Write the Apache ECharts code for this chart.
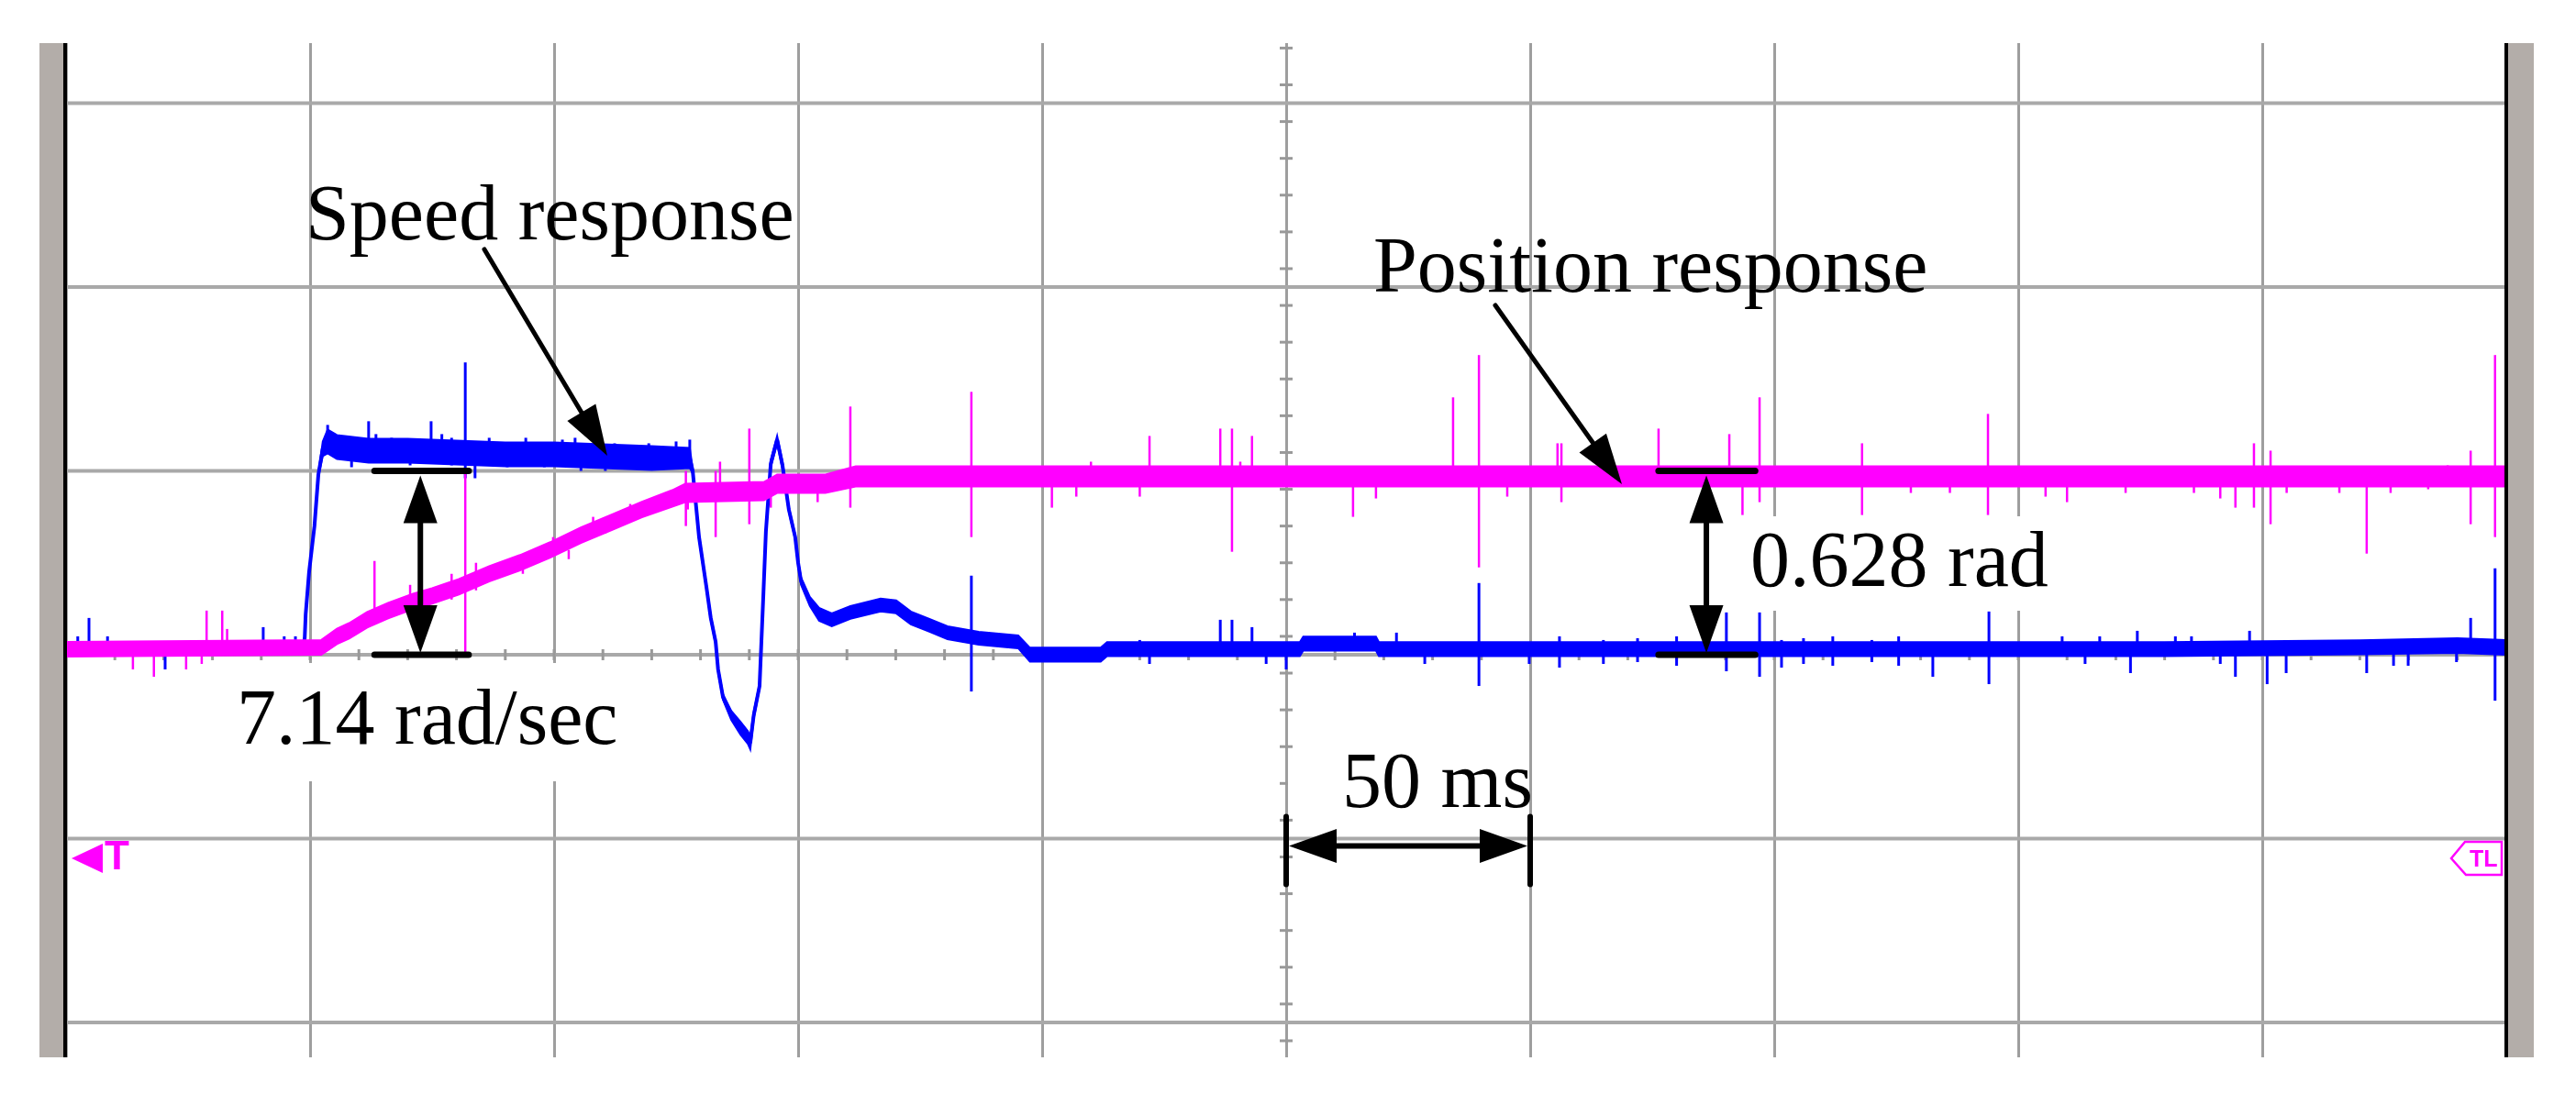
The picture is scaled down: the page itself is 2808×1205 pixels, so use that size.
<!DOCTYPE html>
<html><head><meta charset="utf-8">
<script src="https://cdn.jsdelivr.net/npm/echarts@6/dist/echarts.min.js"></script>
<style>html,body{margin:0;padding:0;background:#fff;}#c{width:2808px;height:1205px;}</style>
</head><body><div id="c"></div>
<script>
// ---- time axis: ms (50 ms / div), vertical axis: divisions (0 = speed zero) ----
const speedTime   = [0, 48.6, 48.9, 49.1, 49.8, 50.9, 51.7, 52.6, 53.6, 55.5, 62, 70, 80, 90, 100, 110, 120, 127.8, 128.4, 129.7, 131.2, 132.1, 133.1, 133.6, 134.6, 136.3, 138.2, 139.7, 140.2, 140.9, 142.1, 142.9, 143.4, 144.4, 145.7, 146.8, 148.1, 149.4, 150.0, 150.6, 152.4, 154.3, 156.9, 160.7, 166.9, 170.1, 173.1, 176.9, 180.6, 187.0, 195.1, 197.5, 212.0, 213.3, 252.8, 253.5, 268.4, 269.0, 300, 350, 400, 430, 470, 490, 500];
const speedValue  = [0.03, 0.04, 0.09, 0.22, 0.45, 0.70, 0.98, 1.12, 1.16, 1.13, 1.11, 1.11, 1.10, 1.09, 1.09, 1.08, 1.07, 1.07, 1.00, 0.64, 0.37, 0.20, 0.07, -0.08, -0.23, -0.33, -0.40, -0.45, -0.48, -0.33, -0.17, 0.34, 0.67, 1.04, 1.17, 1.03, 0.79, 0.64, 0.50, 0.40, 0.29, 0.22, 0.19, 0.23, 0.27, 0.26, 0.20, 0.16, 0.12, 0.09, 0.07, 0.00, 0.00, 0.03, 0.03, 0.06, 0.06, 0.03, 0.03, 0.03, 0.03, 0.03, 0.04, 0.05, 0.04];
const speedSpread = [0.035, 0.035, 0.01, 0.005, 0.005, 0.005, 0.01, 0.04, 0.065, 0.065, 0.065, 0.065, 0.065, 0.065, 0.065, 0.065, 0.065, 0.055, 0.012, 0.012, 0.012, 0.012, 0.012, 0.012, 0.015, 0.025, 0.035, 0.035, 0.035, 0.02, 0.012, 0.012, 0.012, 0.02, 0.02, 0.02, 0.012, 0.012, 0.012, 0.02, 0.025, 0.035, 0.035, 0.035, 0.035, 0.035, 0.035, 0.035, 0.035, 0.035, 0.035, 0.038, 0.038, 0.038, 0.038, 0.038, 0.038, 0.038, 0.038, 0.038, 0.038, 0.038, 0.038, 0.04, 0.04];

const positionTime   = [0, 52.3, 55.5, 58, 61.7, 66, 71.1, 75, 80.5, 86.7, 93, 99.2, 105.5, 111.8, 118, 124.2, 126.9, 143, 145.7, 155.6, 161.8, 200, 250, 300, 350, 400, 450, 500];
const positionValue  = [0.03, 0.04, 0.10, 0.13, 0.19, 0.24, 0.29, 0.32, 0.37, 0.44, 0.50, 0.57, 0.65, 0.72, 0.79, 0.85, 0.88, 0.89, 0.93, 0.93, 0.97, 0.97, 0.97, 0.97, 0.97, 0.97, 0.97, 0.97];
const positionSpread = [0.04, 0.04, 0.042, 0.042, 0.042, 0.042, 0.042, 0.042, 0.042, 0.042, 0.042, 0.042, 0.042, 0.042, 0.042, 0.045, 0.05, 0.05, 0.05, 0.05, 0.055, 0.055, 0.055, 0.055, 0.055, 0.055, 0.055, 0.055];

// spikes and noise blips: [time, low, high]
const speedSpikeTime = [2.4, 4.7, 8.5, 20.3, 40.4, 44.7, 47.0, 53.6, 56.0, 58.5, 62.0, 63.5, 66.7, 70.5, 74.8, 77.0, 79.0, 81.8, 83.8, 86.7, 90.4, 94.2, 98.0, 101.7, 104.3, 105.5, 110.5, 112.4, 117.5, 119.4, 122.7, 125.0, 127.8,
  185.5, 220.0, 222.0, 236.5, 238.9, 243.0, 245.9, 250.0, 264.0, 272.6, 278.4, 289.5, 299.8, 306.0, 315.0, 322.0, 330.0, 340.2, 347.0, 351.5, 356.0, 362.0, 370.0, 375.5, 382.5, 394.0, 409.0, 413.7, 416.7, 423.0, 424.4, 432.2, 435.5, 441.4, 444.5, 447.4, 451.0, 454.9, 471.4, 476.9, 479.9, 489.8, 492.7, 497.7];
const speedSpikeLow  = [0.03, 0.03, 0.03, -0.08, 0.03, 0.03, 0.03, 1.10, 1.10, 1.02, 1.10, 1.10, 1.10, 1.03, 1.10, 1.10, 1.03, 0.96, 0.96, 1.08, 1.02, 1.08, 1.02, 1.08, 1.08, 1.00, 1.00, 1.07, 1.02, 1.07, 1.02, 1.07, 1.07,
  -0.20, 0.03, -0.05, 0.03, 0.03, 0.03, -0.05, -0.08, 0.06, 0.03, -0.05, -0.17, -0.05, -0.07, -0.05, -0.04, -0.06, -0.09, -0.12, -0.07, -0.05, -0.06, -0.04, -0.06, -0.12, -0.16, 0.03, -0.05, 0.03, -0.10, 0.03, 0.03, 0.03, -0.05, -0.12, 0.03, -0.16, -0.10, -0.10, -0.06, -0.06, -0.04, 0.03, -0.25];
const speedSpikeHigh = [0.10, 0.20, 0.10, 0.03, 0.15, 0.10, 0.10, 1.25, 1.18, 1.12, 1.27, 1.20, 1.18, 1.12, 1.27, 1.20, 1.18, 1.59, 1.10, 1.18, 1.10, 1.18, 1.10, 1.17, 1.18, 1.09, 1.08, 1.15, 1.08, 1.15, 1.08, 1.16, 1.17,
  0.43, 0.08, 0.03, 0.19, 0.19, 0.15, 0.03, 0.03, 0.12, 0.12, 0.03, 0.39, 0.03, 0.10, 0.08, 0.09, 0.10, 0.23, 0.23, 0.08, 0.09, 0.10, 0.08, 0.10, 0.03, 0.235, 0.10, 0.03, 0.10, 0.03, 0.13, 0.10, 0.10, 0.03, 0.03, 0.13, 0.03, 0.03, 0.03, 0.03, 0.03, 0.03, 0.20, 0.47];

const positionSpikeTime = [13.7, 18.0, 24.6, 27.8, 28.8, 32.0, 33.0, 63.2, 70.5, 79.0, 81.8, 84.0, 93.6, 99.8, 103.0, 108.0, 110.5, 114.3, 115.6, 127.0, 127.4, 133.1, 134.0, 140.0, 144.4, 154.0, 160.7, 185.5, 202.0, 207.0, 210.0, 220.0, 222.0, 236.5, 238.9, 240.6, 243.0, 263.7, 268.4, 284.2, 289.5, 295.3, 305.6, 306.4, 326.3, 340.8, 343.5, 347.0, 368.0, 378.0, 386.0, 393.8, 405.6, 410.0, 422.0, 436.0, 441.4, 444.5, 448.3, 451.7, 455.0, 465.8, 471.4, 476.3, 484.0, 488.0, 492.7, 497.7];
const positionSpikeLow  = [-0.08, -0.12, -0.08, -0.05, 0.03, 0.03, 0.03, 0.20, 0.29, 0.30, 0.00, 0.35, 0.44, 0.57, 0.52, 0.65, 0.66, 0.72, 0.72, 0.70, 0.79, 0.64, 0.89, 0.71, 0.80, 0.83, 0.80, 0.64, 0.80, 0.86, 0.97, 0.86, 0.97, 0.97, 0.56, 0.97, 0.97, 0.75, 0.85, 0.97, 0.475, 0.86, 0.97, 0.83, 0.97, 0.97, 0.76, 0.83, 0.76, 0.88, 0.88, 0.76, 0.86, 0.83, 0.88, 0.88, 0.85, 0.80, 0.80, 0.71, 0.88, 0.88, 0.55, 0.88, 0.90, 0.97, 0.71, 0.64];
const positionSpikeHigh = [0.03, 0.03, 0.03, 0.03, 0.24, 0.24, 0.14, 0.51, 0.38, 0.44, 0.99, 0.50, 0.50, 0.64, 0.57, 0.75, 0.72, 0.79, 0.82, 1.00, 0.88, 1.00, 1.05, 1.23, 0.93, 0.93, 1.35, 1.43, 0.97, 0.97, 1.05, 0.97, 1.19, 1.23, 1.23, 1.05, 1.19, 0.97, 0.97, 1.40, 1.63, 0.97, 1.15, 1.15, 1.23, 1.20, 0.97, 1.40, 1.15, 0.97, 0.97, 1.31, 0.97, 0.97, 0.97, 0.97, 0.97, 0.97, 1.15, 1.11, 0.97, 0.97, 0.97, 0.97, 0.97, 1.03, 1.11, 1.63];

const gridRowValues = [-2, -1, 0, 1, 2, 3];
const labelSpeed = 'Speed response';
const labelPosition = 'Position response';
const labelSpeedStep = '7.14 rad/sec';
const labelPositionStep = '0.628 rad';
const labelTimeDiv = '50 ms';

const BLUE = '#0000ff', MAG = '#ff00ff';

const chart = echarts.init(document.getElementById('c'), null, {renderer: 'canvas'});

function bandRenderer(times, vals, spreads, color) {
  return function (params, api) {
    const up = [], lo = [];
    for (let i = 0; i < times.length; i++) {
      up.push(api.coord([times[i], vals[i] + spreads[i]]));
      lo.push(api.coord([times[i], vals[i] - spreads[i]]));
    }
    return {type: 'polygon', shape: {points: up.concat(lo.reverse())},
            style: {fill: color, stroke: color, lineWidth: 2}};
  };
}
function spikeRenderer(color, w) {
  return function (params, api) {
    const a = api.coord([api.value(0), api.value(1)]);
    const b = api.coord([api.value(0), api.value(2)]);
    return {type: 'line', shape: {x1: a[0], y1: a[1], x2: b[0], y2: b[1]}, style: {stroke: color, lineWidth: w}};
  };
}

// decoration: minor ticks along the centre axes
const xTickTimes = []; for (let t = 10; t < 500; t += 10) xTickTimes.push(t);
const yTickVals = []; for (let v = -21; v <= 33; v += 2) yTickVals.push(v / 10);

const option = {
  animation: false,
  backgroundColor: '#ffffff',
  grid: {left: 72, right: 76, top: 47, bottom: 52, show: false},
  xAxis: {type: 'value', min: 0, max: 500, interval: 50,
    axisLine: {show: false}, axisTick: {show: false}, axisLabel: {show: false},
    splitLine: {show: true, lineStyle: {color: '#9e9e9e', width: 3}}},
  yAxis: {type: 'value', min: -2.19, max: 3.327,
    axisLine: {show: false}, axisTick: {show: false}, axisLabel: {show: false}, splitLine: {show: false}},
  series: [
    {type: 'custom', name: 'rows', z: 1, silent: true, data: gridRowValues.map(v => [v]),
      encode: {y: 0},
      renderItem: (p, api) => {
        const a = api.coord([0, api.value(0)]), b = api.coord([500, api.value(0)]);
        return {type: 'line', shape: {x1: a[0], y1: a[1], x2: b[0], y2: b[1]}, style: {stroke: '#a9a9a9', lineWidth: 4}};
      }},
    {type: 'custom', name: 'xticks', z: 1, silent: true, data: xTickTimes.map(t => [t]),
      encode: {x: 0},
      renderItem: (p, api) => {
        const a = api.coord([api.value(0), 0]);
        return {type: 'line', shape: {x1: a[0], y1: a[1] - 6, x2: a[0], y2: a[1] + 6}, style: {stroke: '#999999', lineWidth: 3}};
      }},
    {type: 'custom', name: 'yticks', z: 1, silent: true, data: yTickVals.map(v => [v]),
      encode: {y: 0},
      renderItem: (p, api) => {
        const a = api.coord([250, api.value(0)]);
        return {type: 'line', shape: {x1: a[0] - 7, y1: a[1], x2: a[0] + 7, y2: a[1]}, style: {stroke: '#999999', lineWidth: 3}};
      }},
    {type: 'custom', name: 'speedBand', z: 3, silent: true, clip: true, data: [[0, 0]],
      renderItem: bandRenderer(speedTime, speedValue, speedSpread, BLUE)},
    {type: 'line', name: 'Speed response', z: 4, silent: true, showSymbol: false, clip: true,
      data: speedTime.map((t, i) => [t, speedValue[i]]),
      lineStyle: {color: BLUE, width: 4}, itemStyle: {color: BLUE}},
    {type: 'custom', name: 'speedSpikes', z: 4, silent: true, clip: true,
      data: speedSpikeTime.map((t, i) => [t, speedSpikeLow[i], speedSpikeHigh[i]]),
      encode: {x: 0, y: [1, 2]}, renderItem: spikeRenderer(BLUE, 3)},
    {type: 'custom', name: 'positionBand', z: 5, silent: true, clip: true, data: [[0, 0]],
      renderItem: bandRenderer(positionTime, positionValue, positionSpread, MAG)},
    {type: 'line', name: 'Position response', z: 6, silent: true, showSymbol: false, clip: true,
      data: positionTime.map((t, i) => [t, positionValue[i]]),
      lineStyle: {color: MAG, width: 3}, itemStyle: {color: MAG}},
    {type: 'custom', name: 'positionSpikes', z: 6, silent: true, clip: true,
      data: positionSpikeTime.map((t, i) => [t, positionSpikeLow[i], positionSpikeHigh[i]]),
      encode: {x: 0, y: [1, 2]}, renderItem: spikeRenderer(MAG, 2.5)}
  ]
};
chart.setOption(option);

const px = (t, v) => chart.convertToPixel({gridIndex: 0}, [t, v]);
const Z = 100;

function head(tip, from, len, hw) {
  const dx = tip[0] - from[0], dy = tip[1] - from[1];
  const L = Math.sqrt(dx * dx + dy * dy), ux = dx / L, uy = dy / L;
  const bx = tip[0] - ux * len, by = tip[1] - uy * len;
  return {type: 'polygon', z: Z, shape: {points: [tip, [bx - uy * hw, by + ux * hw], [bx + uy * hw, by - ux * hw]]}, style: {fill: '#000'}};
}
function seg(a, b, w, cap) {
  return {type: 'line', z: Z, shape: {x1: a[0], y1: a[1], x2: b[0], y2: b[1]}, style: {stroke: '#000', lineWidth: w, lineCap: cap || 'butt'}};
}
function vDouble(tShaft, tBar0, tBar1, vTop, vBot) {
  const top = px(tShaft, vTop), bot = px(tShaft, vBot);
  const els = [];
  els.push(seg(px(tBar0, vTop), px(tBar1, vTop), 7, 'round'));
  els.push(seg(px(tBar0, vBot), px(tBar1, vBot), 7, 'round'));
  els.push(seg([top[0], top[1] + 40], [bot[0], bot[1] - 40], 6));
  els.push(head([top[0], top[1] + 5], [top[0], top[1] + 100], 52, 18.5));
  els.push(head([bot[0], bot[1] - 2], [bot[0], bot[1] - 100], 52, 18.5));
  return els;
}
function text(str, x, bottom, size, family, weight, color) {
  return {type: 'text', z: Z + 1, x: x, y: bottom,
    style: {text: str, fontSize: size, fontFamily: family, fontWeight: weight, fill: color, align: 'left', verticalAlign: 'bottom'}};
}
const SERIF = '"Liberation Serif", "Times New Roman", serif';
const SANS = '"Liberation Sans", Arial, sans-serif';
function whiteBox(x, y, w, h) {
  return {type: 'rect', z: Z - 1, shape: {x: x, y: y, width: w, height: h}, style: {fill: '#ffffff'}};
}

const g = [];
// scope frame bars
g.push({type: 'rect', z: Z, shape: {x: 43, y: 47, width: 26, height: 1106}, style: {fill: '#b3ada9'}});
g.push({type: 'rect', z: Z, shape: {x: 69, y: 47, width: 4, height: 1106}, style: {fill: '#000'}});
g.push({type: 'rect', z: Z, shape: {x: 2730, y: 47, width: 4, height: 1106}, style: {fill: '#000'}});
g.push({type: 'rect', z: Z, shape: {x: 2734, y: 47, width: 28, height: 1106}, style: {fill: '#b3ada9'}});

// text boxes
g.push(whiteBox(250, 723, 430, 129));
g.push(whiteBox(1900, 563, 340, 103));
g.push(whiteBox(1404, 820, 262, 69));

// labels
g.push(text(labelSpeed, 333, 281, 86, SERIF, 'normal', '#000'));
g.push(text(labelPosition, 1497, 338, 86, SERIF, 'normal', '#000'));
g.push(text(labelSpeedStep, 258, 831, 86, SERIF, 'normal', '#000'));
g.push(text(labelPositionStep, 1908, 659, 86, SERIF, 'normal', '#000'));
g.push(text(labelTimeDiv, 1463, 900, 86, SERIF, 'normal', '#000'));

// pointer arrows
g.push(seg([528, 272], [640, 460], 5, 'round'));
g.push(head([662, 497], [528, 272], 55, 18));
g.push(seg([1630, 333], [1745, 495], 5, 'round'));
g.push(head([1768, 528], [1630, 333], 55, 18));

// measurement arrows
vDouble(72.6, 63.2, 82.5, 1, 0).forEach(e => g.push(e));
vDouble(336.1, 326.3, 346.1, 1, 0).forEach(e => g.push(e));
{
  const l = px(250, -1.04), r = px(300, -1.04);
  g.push(seg(px(250, -0.88), px(250, -1.25), 6, 'round'));
  g.push(seg(px(300, -0.88), px(300, -1.25), 6, 'round'));
  g.push(seg([l[0] + 40, l[1]], [r[0] - 40, r[1]], 6));
  g.push(head([l[0] + 3, l[1]], [l[0] + 100, l[1]], 52, 18.5));
  g.push(head([r[0] - 3, r[1]], [r[0] - 100, r[1]], 52, 18.5));
}

// trigger markers
g.push({type: 'polygon', z: Z, shape: {points: [[78, 936], [112, 920], [112, 952]]}, style: {fill: MAG}});
g.push(text('T', 114, 958, 44, SANS, 'bold', MAG));
g.push({type: 'polygon', z: Z, shape: {points: [[2672, 936], [2687, 918], [2727, 918], [2727, 954], [2688, 954]]}, style: {fill: 'none', stroke: MAG, lineWidth: 2.5}});
g.push(text('TL', 2692, 951, 25, SANS, 'bold', MAG));

chart.setOption({graphic: {elements: g}});
</script>
</body></html>
